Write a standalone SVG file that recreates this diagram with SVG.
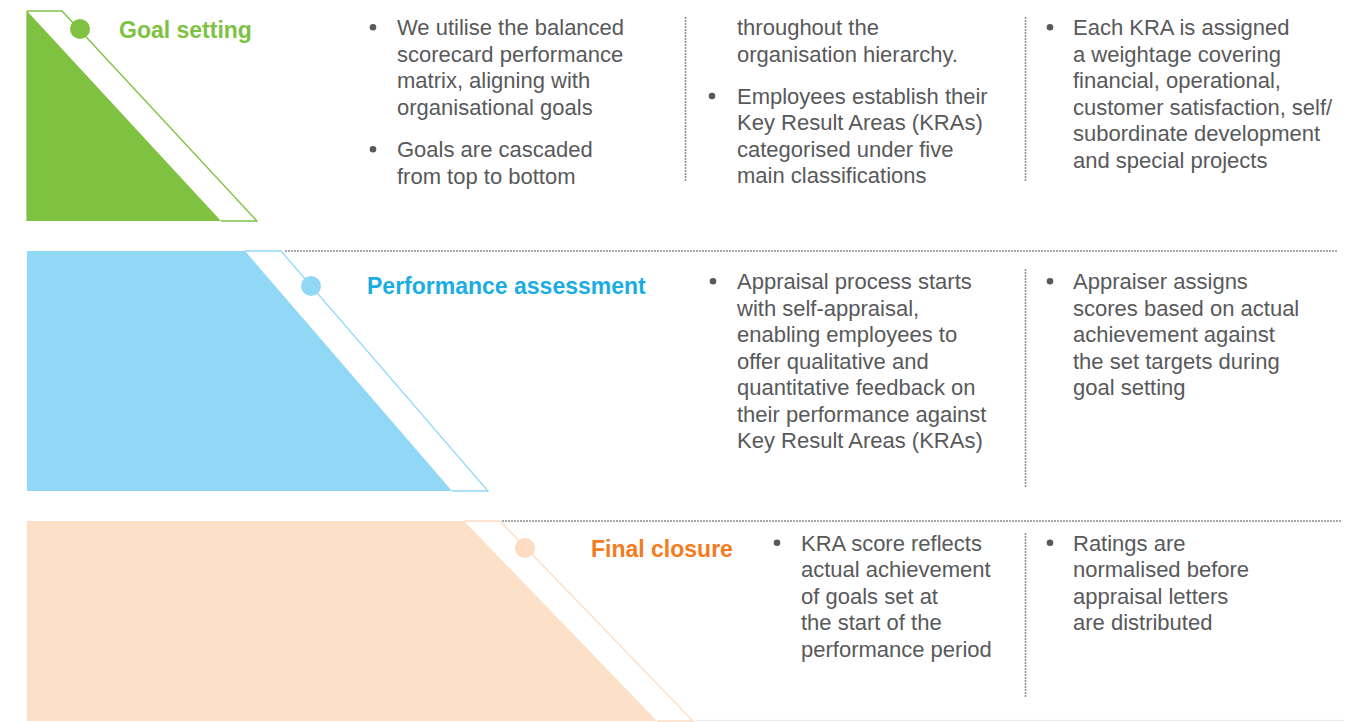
<svg xmlns="http://www.w3.org/2000/svg" width="1364" height="722" viewBox="0 0 1364 722">
<style>
.body{font-family:"Liberation Sans",Arial,sans-serif;font-size:22px;fill:#58595B;}
.title{font-family:"Liberation Sans",Arial,sans-serif;font-size:23px;font-weight:bold;}
.dot{fill:#58595B;}
.dv{stroke:#858585;stroke-width:1.9;stroke-linecap:round;stroke-dasharray:0 3;fill:none;}
.dvl{stroke:#cfcfcf;stroke-width:1.4;stroke-linecap:round;stroke-dasharray:0 3.2;fill:none;}
.band{fill:none;stroke-width:1.3;stroke-linejoin:miter;}
</style>
<rect width="1364" height="722" fill="#ffffff"/>

<g id="separators">
  <line class="dv" x1="685.5" y1="18" x2="685.5" y2="182"/>
  <line class="dv" x1="1025.5" y1="18" x2="1025.5" y2="182"/>
  <line class="dv" x1="286" y1="251" x2="1338" y2="251"/>
  <line class="dv" x1="1025.5" y1="270" x2="1025.5" y2="487"/>
  <line class="dv" x1="503" y1="521" x2="1342" y2="521"/>
  <line class="dv" x1="1025.5" y1="534" x2="1025.5" y2="698"/>
  <line class="dvl" x1="696" y1="720.5" x2="1344" y2="720.5"/>
</g>

<g id="goal-setting">
  <polygon points="27,11 27,221 221,221" fill="#7FC242"/>
  <path class="band" d="M27,11 L62,11 L257,221 L221,221" stroke="#7FC242"/>
  <line x1="27" y1="11" x2="27" y2="221" stroke="#7FC242" stroke-width="1.3"/>
  <circle cx="80" cy="29" r="10" fill="#7FC242"/>
  <text class="title" x="119" y="37.5" fill="#7DC242">Goal setting</text>
  <circle class="dot" cx="373" cy="27.3" r="3.3"/>
  <text class="body" x="397" y="35">We utilise the balanced</text>
  <text class="body" x="397" y="61.5">scorecard performance</text>
  <text class="body" x="397" y="88">matrix, aligning with</text>
  <text class="body" x="397" y="114.5">organisational goals</text>
  <circle class="dot" cx="373" cy="149.3" r="3.3"/>
  <text class="body" x="397" y="157">Goals are cascaded</text>
  <text class="body" x="397" y="183.5">from top to bottom</text>
  <text class="body" x="737" y="35">throughout the</text>
  <text class="body" x="737" y="61.5">organisation hierarchy.</text>
  <circle class="dot" cx="712" cy="96" r="3.3"/>
  <text class="body" x="737" y="103.5">Employees establish their</text>
  <text class="body" x="737" y="130">Key Result Areas (KRAs)</text>
  <text class="body" x="737" y="156.5">categorised under five</text>
  <text class="body" x="737" y="183">main classifications</text>
  <circle class="dot" cx="1050" cy="27.3" r="3.3"/>
  <text class="body" x="1073" y="35">Each KRA is assigned</text>
  <text class="body" x="1073" y="61.5">a weightage covering</text>
  <text class="body" x="1073" y="88">financial, operational,</text>
  <text class="body" x="1073" y="114.5">customer satisfaction, self/</text>
  <text class="body" x="1073" y="141">subordinate development</text>
  <text class="body" x="1073" y="167.5">and special projects</text>
</g>

<g id="performance-assessment">
  <polygon points="27,251 245,251 452,491 27,491" fill="#91D8F6"/>
  <path class="band" d="M245,251 L281,251 L488,491 L452,491" stroke="#91D8F6"/>
  <circle cx="311" cy="286" r="10" fill="#91D8F6"/>
  <text class="title" x="367" y="293.5" fill="#1AADE4">Performance assessment</text>
  <circle class="dot" cx="713" cy="281.3" r="3.3"/>
  <text class="body" x="737" y="289">Appraisal process starts</text>
  <text class="body" x="737" y="315.5">with self-appraisal,</text>
  <text class="body" x="737" y="342">enabling employees to</text>
  <text class="body" x="737" y="368.5">offer qualitative and</text>
  <text class="body" x="737" y="395">quantitative feedback on</text>
  <text class="body" x="737" y="421.5">their performance against</text>
  <text class="body" x="737" y="448">Key Result Areas (KRAs)</text>
  <circle class="dot" cx="1050" cy="281.3" r="3.3"/>
  <text class="body" x="1073" y="289">Appraiser assigns</text>
  <text class="body" x="1073" y="315.5">scores based on actual</text>
  <text class="body" x="1073" y="342">achievement against</text>
  <text class="body" x="1073" y="368.5">the set targets during</text>
  <text class="body" x="1073" y="395">goal setting</text>
</g>

<g id="final-closure">
  <polygon points="27,521 464,521 657,721 27,721" fill="#FDE0C8"/>
  <path class="band" d="M464,521 L500,521 L693,721 L657,721" stroke="#FDDCC2"/>
  <circle cx="525" cy="548" r="10" fill="#FDDCC4"/>
  <text class="title" x="591" y="557" fill="#F47B20">Final closure</text>
  <circle class="dot" cx="777" cy="542.8" r="3.3"/>
  <text class="body" x="801" y="550.5">KRA score reflects</text>
  <text class="body" x="801" y="577">actual achievement</text>
  <text class="body" x="801" y="603.5">of goals set at</text>
  <text class="body" x="801" y="630">the start of the</text>
  <text class="body" x="801" y="656.5">performance period</text>
  <circle class="dot" cx="1050" cy="542.8" r="3.3"/>
  <text class="body" x="1073" y="550.5">Ratings are</text>
  <text class="body" x="1073" y="577">normalised before</text>
  <text class="body" x="1073" y="603.5">appraisal letters</text>
  <text class="body" x="1073" y="630">are distributed</text>
</g>
</svg>
